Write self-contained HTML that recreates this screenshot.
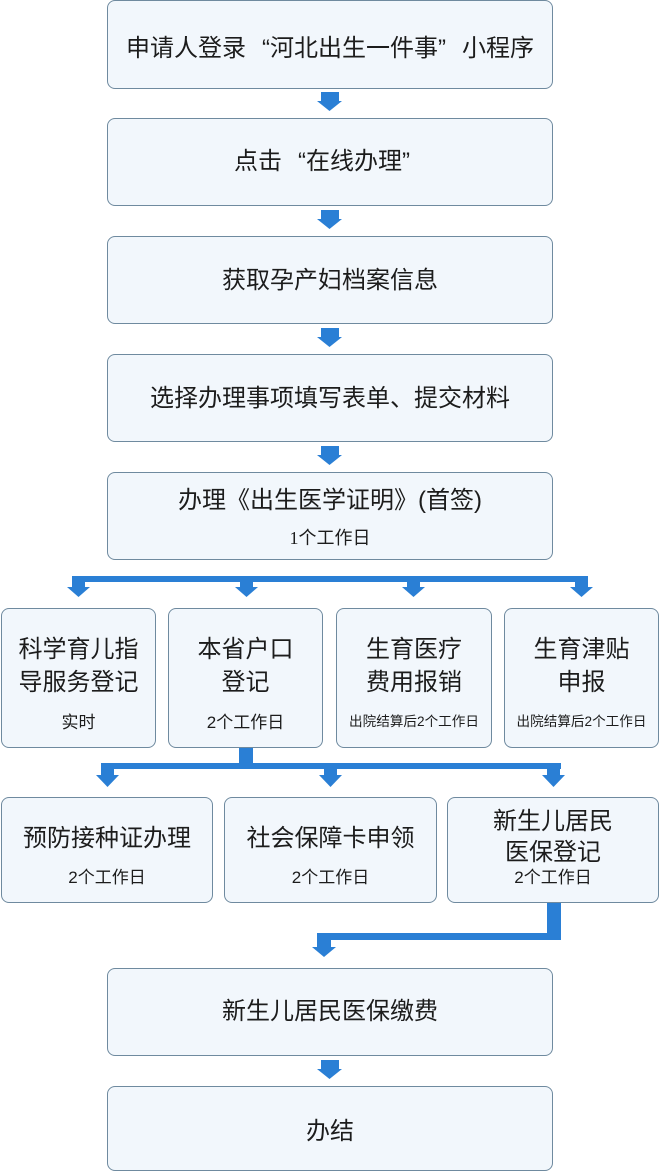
<!DOCTYPE html>
<html>
<head>
<meta charset="utf-8">
<style>
  html, body { margin:0; padding:0; background:#ffffff; }
  #c { position:relative; width:660px; height:1172px; overflow:hidden; background:#ffffff;
       font-family:"Liberation Sans","Noto Sans CJK SC","WenQuanYi Zen Hei",sans-serif; color:#1c1c1c; }
  .b { position:absolute; box-sizing:border-box; border:1px solid #6f8a9f; border-radius:8px; background:#f2f7fc; }
  .t { position:absolute; text-align:center; white-space:nowrap; font-size:24px; line-height:30px; height:30px; }
  .s { position:absolute; text-align:center; white-space:nowrap; font-size:17px; line-height:22px; height:22px; }
  .xs { position:absolute; text-align:center; white-space:nowrap; font-size:13.6px; line-height:20px; height:20px; }
  .ql { display:inline-block; width:24px; text-align:right; }
  .qr { display:inline-block; width:24px; text-align:left; }
  svg { position:absolute; left:0; top:0; }
</style>
</head>
<body>
<div id="c">
  <!-- connectors -->
  <svg width="660" height="1172" viewBox="0 0 660 1172">
    <g fill="#2a7fd5">
      <!-- main column arrows -->
      <rect x="321" y="92" width="18" height="10"/><polygon points="317,101 342,101 329.5,111"/>
      <rect x="321" y="210" width="18" height="10"/><polygon points="317,219 342,219 329.5,229"/>
      <rect x="321" y="328" width="18" height="10"/><polygon points="317,337 342,337 329.5,347"/>
      <rect x="321" y="446" width="18" height="10"/><polygon points="317,455 342,455 329.5,465"/>
      <rect x="321" y="1060" width="18" height="10"/><polygon points="317,1069 342,1069 329.5,1079"/>

      <!-- branch row 1 -->
      <rect x="72" y="576" width="516" height="6"/>
      <rect x="72" y="580" width="13" height="8"/><polygon points="67,587 90,587 78.5,597"/>
      <rect x="240" y="580" width="13" height="8"/><polygon points="235,587 258,587 246.5,597"/>
      <rect x="407" y="580" width="13" height="8"/><polygon points="402,587 425,587 413.5,597"/>
      <rect x="575" y="580" width="13" height="8"/><polygon points="570,587 593,587 581.5,597"/>

      <!-- branch row 2 -->
      <rect x="239" y="748" width="14" height="18"/>
      <rect x="101" y="763" width="460" height="6"/>
      <rect x="101" y="767" width="13" height="8"/><polygon points="96,775 119,775 107.5,787"/>
      <rect x="324" y="767" width="13" height="8"/><polygon points="319,775 342,775 330.5,787"/>
      <rect x="547" y="767" width="13" height="8"/><polygon points="542,775 565,775 553.5,787"/>

      <!-- bottom elbow connector -->
      <rect x="547" y="903" width="14" height="37"/>
      <rect x="317" y="933" width="244" height="7"/>
      <rect x="317" y="933" width="14" height="15"/>
      <polygon points="312,947 336,947 324,957"/>
    </g>
  </svg>

  <!-- main boxes -->
  <div class="b" style="left:107px;top:0px;width:446px;height:89px;"></div>
  <div class="t" style="left:107px;width:446px;top:34px;">申请人登录<span class="ql">“</span>河北出生一件事<span class="qr">”</span>小程序</div>

  <div class="b" style="left:107px;top:118px;width:446px;height:88px;"></div>
  <div class="t" style="left:107px;width:446px;top:147px;">点击<span class="ql">“</span>在线办理<span class="qr">”</span></div>

  <div class="b" style="left:107px;top:236px;width:446px;height:88px;"></div>
  <div class="t" style="left:107px;width:446px;top:266px;">获取孕产妇档案信息</div>

  <div class="b" style="left:107px;top:354px;width:446px;height:88px;"></div>
  <div class="t" style="left:107px;width:446px;top:384px;">选择办理事项填写表单、提交材料</div>

  <div class="b" style="left:107px;top:472px;width:446px;height:88px;"></div>
  <div class="t" style="left:107px;width:446px;top:486px;">办理《出生医学证明》(首签)</div>
  <div class="s" style="left:107px;width:446px;top:527px;font-size:18px;"><span style="font-family:'Liberation Serif',serif;">1</span>个工作日</div>

  <!-- branch row 1 -->
  <div class="b" style="left:1px;top:608px;width:155px;height:140px;"></div>
  <div class="t" style="left:1px;width:155px;top:635px;">科学育儿指</div>
  <div class="t" style="left:1px;width:155px;top:668px;">导服务登记</div>
  <div class="s" style="left:1px;width:155px;top:712px;">实时</div>

  <div class="b" style="left:168px;top:608px;width:155px;height:140px;"></div>
  <div class="t" style="left:168px;width:155px;top:635px;">本省户口</div>
  <div class="t" style="left:168px;width:155px;top:668px;">登记</div>
  <div class="s" style="left:168px;width:155px;top:712px;">2个工作日</div>

  <div class="b" style="left:336px;top:608px;width:156px;height:140px;"></div>
  <div class="t" style="left:336px;width:156px;top:635px;">生育医疗</div>
  <div class="t" style="left:336px;width:156px;top:668px;">费用报销</div>
  <div class="xs" style="left:336px;width:156px;top:712px;">出院结算后2个工作日</div>

  <div class="b" style="left:504px;top:608px;width:155px;height:140px;"></div>
  <div class="t" style="left:504px;width:155px;top:635px;">生育津贴</div>
  <div class="t" style="left:504px;width:155px;top:668px;">申报</div>
  <div class="xs" style="left:504px;width:155px;top:712px;">出院结算后2个工作日</div>

  <!-- branch row 2 -->
  <div class="b" style="left:1px;top:797px;width:212px;height:106px;"></div>
  <div class="t" style="left:1px;width:212px;top:824px;">预防接种证办理</div>
  <div class="s" style="left:1px;width:212px;top:867px;">2个工作日</div>

  <div class="b" style="left:224px;top:797px;width:213px;height:106px;"></div>
  <div class="t" style="left:224px;width:213px;top:824px;">社会保障卡申领</div>
  <div class="s" style="left:224px;width:213px;top:867px;">2个工作日</div>

  <div class="b" style="left:447px;top:797px;width:212px;height:106px;"></div>
  <div class="t" style="left:447px;width:212px;top:807px;">新生儿居民</div>
  <div class="t" style="left:447px;width:212px;top:838px;">医保登记</div>
  <div class="s" style="left:447px;width:212px;top:867px;">2个工作日</div>

  <!-- final boxes -->
  <div class="b" style="left:107px;top:968px;width:446px;height:88px;"></div>
  <div class="t" style="left:107px;width:446px;top:997px;">新生儿居民医保缴费</div>

  <div class="b" style="left:107px;top:1086px;width:446px;height:85px;"></div>
  <div class="t" style="left:107px;width:446px;top:1117px;">办结</div>
</div>
</body>
</html>
